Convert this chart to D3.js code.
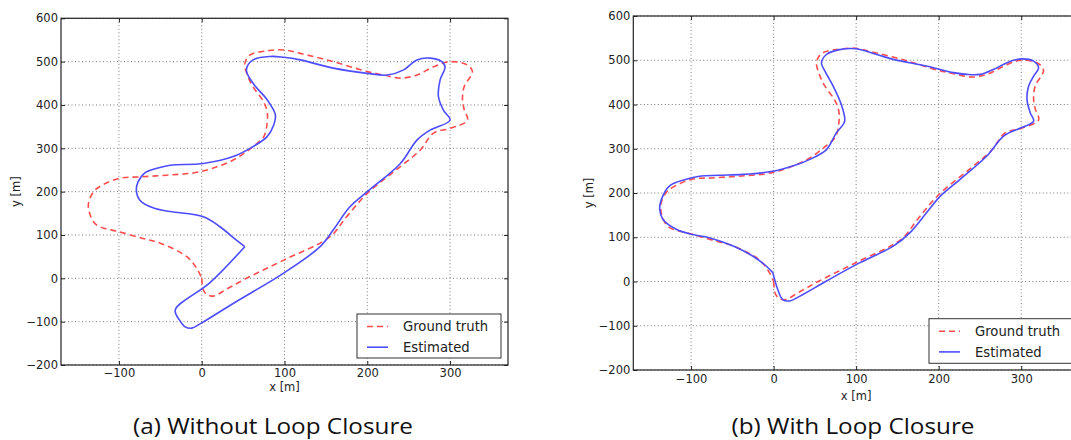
<!DOCTYPE html>
<html>
<head>
<meta charset="utf-8">
<script src="https://cdn.jsdelivr.net/npm/d3@7"></script>
<style>
  html, body { margin: 0; padding: 0; background: #fff; }
  svg { display: block; }
</style>
</head>
<body>
<svg id="chart" width="1071" height="440"></svg>
<script>
// ---------- DATA ----------
const xTicks = [-100, 0, 100, 200, 300];
const yTicks = [-200, -100, 0, 100, 200, 300, 400, 500, 600];
const xDomain = [-170, 370];
const yDomain = [-200, 600];
const seriesNames = ["Ground truth", "Estimated"];
const captions = ["(a) Without Loop Closure", "(b) With Loop Closure"];

// Ground truth trajectory (same in both panels)
const groundTruth = [
  [0,0],[2,-27],[6,-37],[14,-41],[30,-25],[54,0],[99,42],[155,96],[175,142],[200,196],
  [240,258],[264,296],[280,335],[300,346],[321,365],[317,390],[315,412],[317,442],
  [327,477],[321,492],[300,500],[280,488],[260,469],[240,462],[220,469],[200,477],
  [159,500],[119,519],[99,527],[79,525],[58,515],[52,495],[55,470],[62,442],[74,410],
  [79,385],[79,358],[75,327],[62,304],[38,273],[-2,246],[-42,238],[-75,234],[-99,231],
  [-123,212],[-131,199],[-137,169],[-131,131],[-123,119],[-101,108],[-71,92],[-50,81],
  [-18,50],[-6,23],[0,0]
];

// Estimated trajectory, without loop closure
const estimatedNoLC = [
  [52,73],[10,-10],[-32,-73],[-27,-96],[-20,-112],[-12,-115],[-2,-105],[38,-58],
  [99,12],[143,73],[159,112],[179,165],[200,200],[240,265],[260,319],[276,342],
  [300,365],[292,388],[286,419],[288,458],[294,488],[290,500],[276,508],[260,504],
  [244,481],[224,469],[200,473],[159,485],[119,504],[99,510],[83,512],[62,504],
  [54,481],[62,450],[79,412],[89,377],[87,354],[79,327],[62,304],[38,281],[2,265],
  [-38,261],[-54,254],[-69,243],[-77,222],[-79,204],[-75,181],[-58,162],[-38,154],
  [2,142],[22,119],[42,88],[52,73]
];

// Estimated trajectory, with loop closure
const estimatedLC = [
  [-1,20],[5,-18],[11,-41],[19,-44],[32,-33],[64,1],[104,42],[145,80],[165,110],
  [185,155],[202,193],[226,231],[258,283],[279,329],[299,347],[315,362],[311,381],
  [307,411],[309,442],[315,464],[321,483],[315,498],[301,503],[287,498],[266,479],
  [250,468],[234,468],[218,472],[185,487],[145,502],[125,513],[100,526],[80,524],
  [64,513],[58,494],[62,476],[72,442],[82,400],[86,362],[76,336],[64,298],[44,276],
  [23,261],[-1,249],[-37,242],[-66,240],[-90,238],[-106,231],[-126,216],[-136,185],
  [-138,163],[-134,140],[-118,118],[-98,106],[-78,99],[-49,80],[-25,57],[-9,35],[-1,20]
];

// ---------- DRAW ----------
const svg = d3.select("#chart");
const RED = "rgb(255,77,77)";
const BLUE = "rgb(77,77,255)";
const FONT = "'DejaVu Sans', sans-serif";

const panels = [
  { left: 61, right: 508, top: 18.3, bottom: 365, est: estimatedNoLC, caption: captions[0],
    capX: 273, capLen: 280, ylabX: 16, xlabDy: 26, tickPad: 4,
    legend: { x: 357, y: 314, w: 144, h: 44 } },
  { left: 633.3, right: 1079, top: 16, bottom: 370, est: estimatedLC, caption: captions[1],
    capX: 853, capLen: 243, ylabX: 589, xlabDy: 30, tickPad: 5,
    legend: { x: 929, y: 318.7, w: 150, h: 44.6 } }
];

panels.forEach((p, i) => {
  const x = d3.scaleLinear().domain(xDomain).range([p.left, p.right]);
  const y = d3.scaleLinear().domain(yDomain).range([p.bottom, p.top]);
  const g = svg.append("g");

  // grid
  const grid = g.append("g").attr("stroke", "#7a7a7a").attr("stroke-width", 1)
    .attr("stroke-dasharray", "1,2.5").attr("fill", "none");
  xTicks.forEach(t => grid.append("line").attr("x1", x(t)).attr("x2", x(t))
    .attr("y1", p.top).attr("y2", p.bottom));
  yTicks.forEach(t => grid.append("line").attr("y1", y(t)).attr("y2", y(t))
    .attr("x1", p.left).attr("x2", p.right));

  // clip
  const clipId = "clip" + i;
  svg.append("clipPath").attr("id", clipId).append("rect")
    .attr("x", p.left).attr("y", p.top).attr("width", p.right - p.left).attr("height", p.bottom - p.top);

  const line = d3.line().x(d => x(d[0])).y(d => y(d[1])).curve(d3.curveCatmullRom.alpha(0.5));
  const plot = g.append("g").attr("clip-path", `url(#${clipId})`);
  plot.append("path").datum(groundTruth).attr("d", line).attr("fill", "none")
    .attr("stroke", RED).attr("stroke-width", 1.6).attr("stroke-dasharray", "6,4");
  plot.append("path").datum(p.est).attr("d", line).attr("fill", "none")
    .attr("stroke", BLUE).attr("stroke-width", 1.6);

  // axes (ticks inward)
  const fmt = d3.format("d");
  const axB = g.append("g").attr("transform", `translate(0,${p.bottom})`)
    .call(d3.axisBottom(x).tickValues(xTicks).tickFormat(fmt).tickSize(-4).tickPadding(p.tickPad));
  const axT = g.append("g").attr("transform", `translate(0,${p.top})`)
    .call(d3.axisTop(x).tickValues(xTicks).tickFormat("").tickSize(-4));
  const axL = g.append("g").attr("transform", `translate(${p.left},0)`)
    .call(d3.axisLeft(y).tickValues(yTicks).tickFormat(fmt).tickSize(-4).tickPadding(3));
  const axR = g.append("g").attr("transform", `translate(${p.right},0)`)
    .call(d3.axisRight(y).tickValues(yTicks).tickFormat("").tickSize(-4));
  [axB, axT, axL, axR].forEach(a => {
    a.select(".domain").remove();
    a.selectAll(".tick line").attr("stroke", "#222");
    a.selectAll(".tick text").attr("fill", "#222").style("font-size", "11.5px")
      .style("font-family", FONT);
  });

  // frame
  g.append("rect").attr("x", p.left).attr("y", p.top).attr("width", p.right - p.left)
    .attr("height", p.bottom - p.top).attr("fill", "none").attr("stroke", "#222").attr("stroke-width", 1.2);

  // axis labels
  g.append("text").attr("x", x(100)).attr("y", p.bottom + p.xlabDy).attr("text-anchor", "middle")
    .attr("font-family", FONT).attr("font-size", 11.5).attr("fill", "#222")
    .text("x [m]");
  g.append("text").attr("transform", `translate(${p.ylabX},${(p.top + p.bottom) / 2}) rotate(-90)`)
    .attr("text-anchor", "middle").attr("dy", "0.35em")
    .attr("font-family", FONT).attr("font-size", 11.5).attr("fill", "#222")
    .text("y [m]");

  // legend
  const L = p.legend;
  const lg = g.append("g");
  lg.append("rect").attr("x", L.x).attr("y", L.y).attr("width", L.w).attr("height", L.h)
    .attr("fill", "#fff").attr("stroke", "#333").attr("stroke-width", 1);
  const rows = [ { name: seriesNames[0], color: RED, dash: "6,4" },
                 { name: seriesNames[1], color: BLUE, dash: null } ];
  rows.forEach((r, k) => {
    const ry = L.y + 12.5 + k * 20.7;
    const ln = lg.append("line").attr("x1", L.x + 10).attr("x2", L.x + 31)
      .attr("y1", ry).attr("y2", ry).attr("stroke", r.color).attr("stroke-width", 1.6);
    if (r.dash) ln.attr("stroke-dasharray", r.dash);
    lg.append("text").attr("x", L.x + 46).attr("y", ry).attr("dy", "0.36em")
      .attr("font-family", FONT).attr("font-size", 13.2).attr("fill", "#222")
      .text(r.name);
  });

  // caption
  svg.append("text").attr("x", p.capX).attr("y", 433.5).attr("text-anchor", "middle")
    .attr("font-family", "'Open Sans', sans-serif").attr("font-size", 21).attr("fill", "#111")
    .attr("textLength", p.capLen).attr("lengthAdjust", "spacingAndGlyphs")
    .text(p.caption);
});
</script>
</body>
</html>
